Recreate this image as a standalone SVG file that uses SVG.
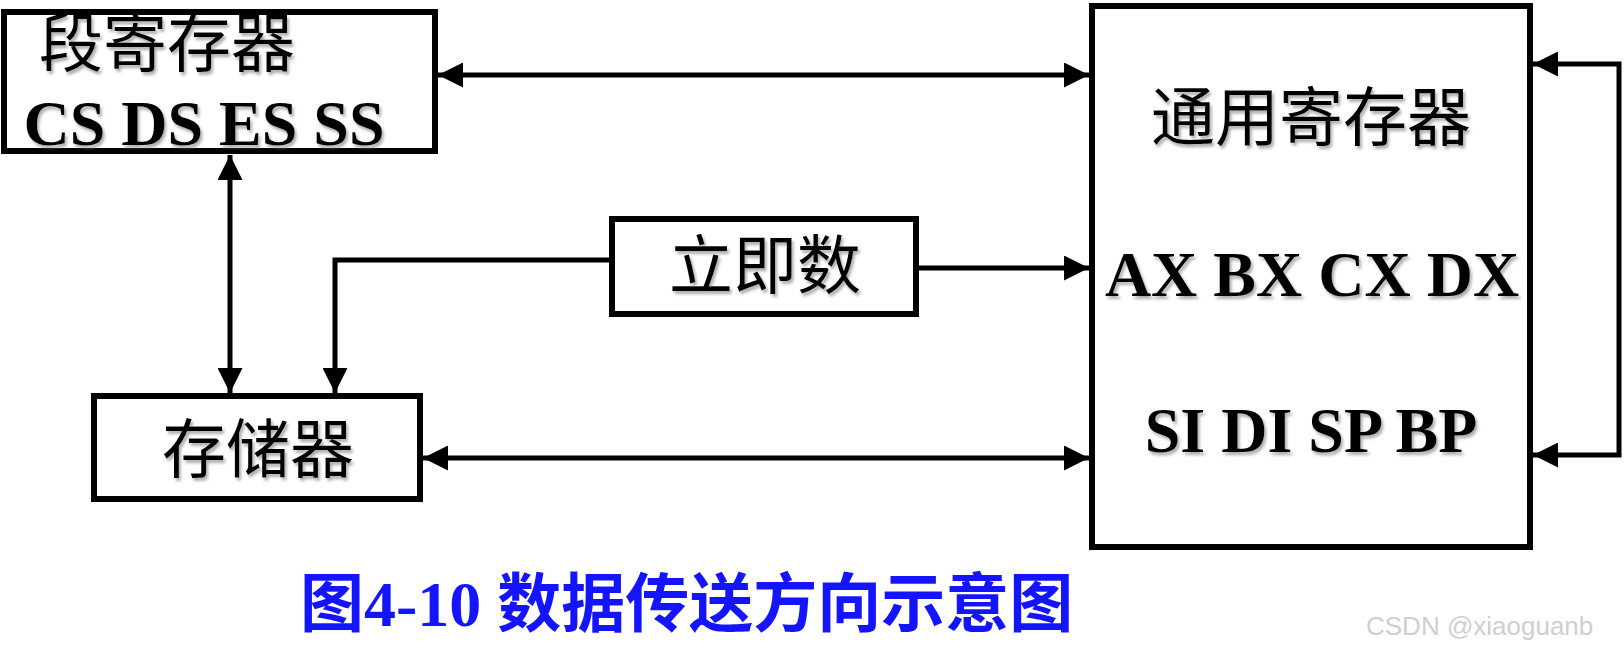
<svg xmlns="http://www.w3.org/2000/svg" width="1624" height="654" viewBox="0 0 1624 654">
<style>
.box{fill:#fff;stroke:#000;stroke-width:6}
.ln{fill:none;stroke:#000;stroke-width:5}
.cjk{font-family:"Liberation Serif","Noto Sans CJK SC",serif;font-size:64px;fill:#000;text-anchor:middle}
.reg{font-family:"Liberation Serif","Noto Sans CJK SC",serif;font-size:64px;font-weight:bold;fill:#000;text-anchor:middle}
.cap{font-family:"Liberation Serif","Noto Sans CJK SC",serif;font-size:64px;font-weight:bold;fill:#1414ff}
.wm{font-family:"Liberation Sans","Noto Sans",sans-serif;font-size:26px;fill:#cfcfcf}
</style>
<defs>
<marker id="ah" markerUnits="userSpaceOnUse" markerWidth="27" markerHeight="25" refX="25" refY="12.5" orient="auto-start-reverse" viewBox="0 0 27 25">
<path d="M0,0 L25,12.5 L0,25 Z" fill="#000"/>
</marker>
<filter id="sh" x="-5%" y="-10%" width="110%" height="130%">
<feDropShadow dx="2" dy="3" stdDeviation="1.5" flood-color="#777" flood-opacity="0.6"/>
</filter>
</defs>
<rect width="1624" height="654" fill="#fff"/>
<g id="connectors">
<line class="ln" x1="438" y1="75" x2="1089" y2="75" marker-start="url(#ah)" marker-end="url(#ah)"/>
<line class="ln" x1="230" y1="155" x2="230" y2="393" marker-start="url(#ah)" marker-end="url(#ah)"/>
<path class="ln" d="M610,260 H335 V393" marker-end="url(#ah)"/>
<line class="ln" x1="918" y1="268" x2="1089" y2="268" marker-end="url(#ah)"/>
<line class="ln" x1="423" y1="458" x2="1089" y2="458" marker-start="url(#ah)" marker-end="url(#ah)"/>
<path class="ln" d="M1533,64 H1619 V455 H1533" marker-start="url(#ah)" marker-end="url(#ah)"/>
</g>
<g id="seg-reg">
<rect class="box" x="4" y="12" width="431" height="139"/>
<text class="cjk" x="167" y="66" filter="url(#sh)">段寄存器</text>
<text class="reg" x="204" y="145" filter="url(#sh)">CS DS ES SS</text>
</g>
<g id="gen-reg">
<rect class="box" x="1092" y="6" width="438" height="541"/>
<text class="cjk" x="1311" y="140" filter="url(#sh)">通用寄存器</text>
<text class="reg" x="1312" y="296" filter="url(#sh)">AX BX CX DX</text>
<text class="reg" x="1311" y="452" filter="url(#sh)">SI DI SP BP</text>
</g>
<g id="imm">
<rect class="box" x="612" y="219" width="304" height="95"/>
<text class="cjk" x="765" y="288" filter="url(#sh)">立即数</text>
</g>
<g id="mem">
<rect class="box" x="94" y="396" width="326" height="103"/>
<text class="cjk" x="258" y="472" filter="url(#sh)">存储器</text>
</g>
<g id="caption">
<text class="cap" x="300" y="626">图4-10 数据传送方向示意图</text>
</g>
<text class="wm" x="1366" y="635">CSDN @xiaoguanb</text>
</svg>
